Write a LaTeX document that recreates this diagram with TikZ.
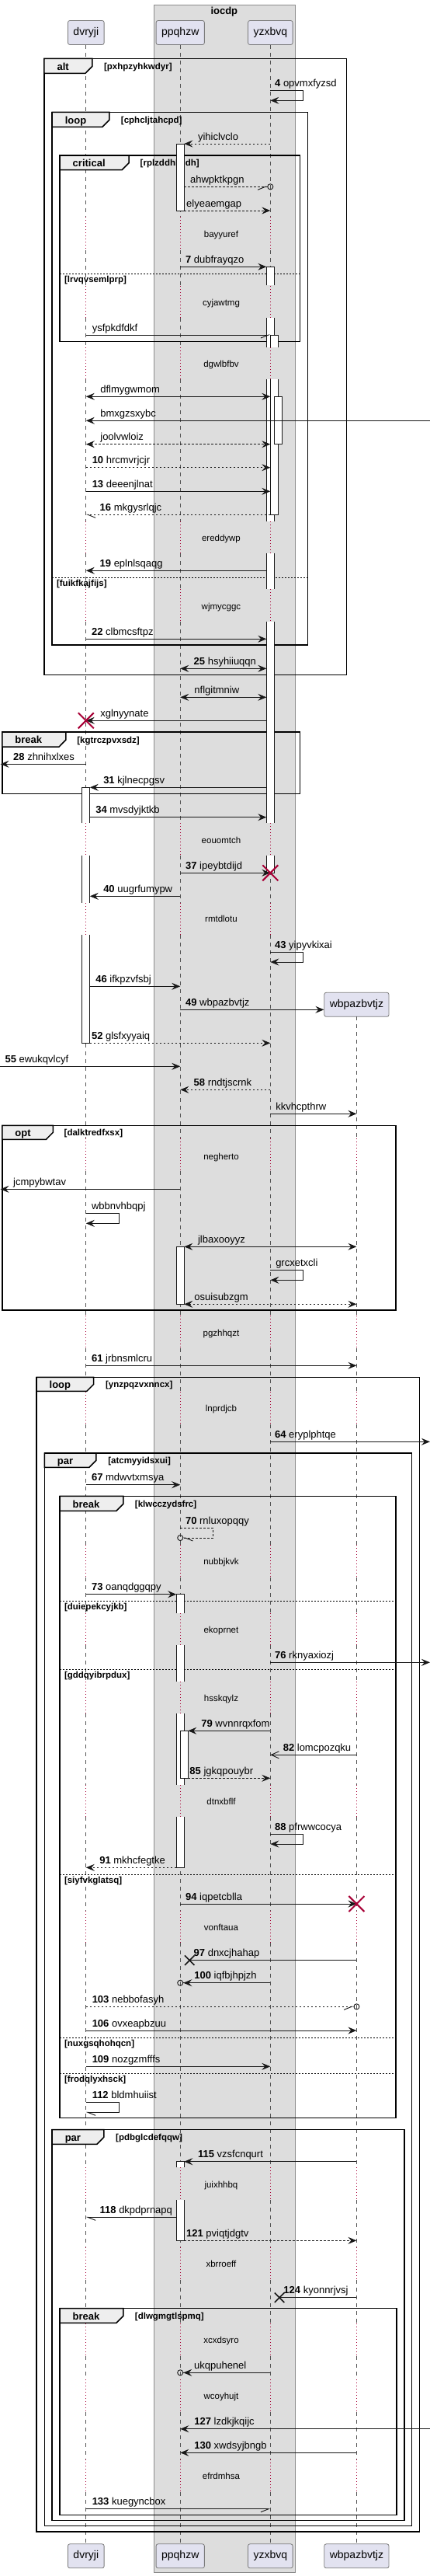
\documentclass[tikz,border=0pt]{standalone}
\usepackage{fontspec}
\setmainfont{Liberation Sans}
\usetikzlibrary{positioning, arrows.meta, shapes.misc}

\definecolor{partfill}{HTML}{E2E2F0}
\definecolor{partline}{HTML}{7A7A7A}
\definecolor{boxfill}{HTML}{DDDDDD}
\definecolor{boxline}{HTML}{8C8C8C}
\definecolor{lifegray}{HTML}{555555}
\definecolor{delayred}{HTML}{A80036}
\definecolor{tabfill}{HTML}{EEEEEE}
\definecolor{msgblack}{HTML}{181818}

\tikzset{
  seqF/.tip={Stealth[length=11pt,width=9pt,inset=4pt]},
  seqHr/.tip={Straight Barb[harpoon,swap,length=10pt,width=8pt]},
  seqHl/.tip={Straight Barb[harpoon,length=10pt,width=8pt]},
  seqO/.tip={Straight Barb[length=10pt,width=9pt]},
  part/.style={draw=partline, fill=partfill, rounded corners=2.5pt, line width=0.8pt,
    minimum height=31pt, inner xsep=7pt, font=\fontsize{14}{16}\selectfont},
  grpbox/.style={draw=boxline, fill=boxfill, line width=0.8pt, inner sep=0pt},
  grptitle/.style={inner sep=0pt, font=\bfseries\fontsize{13}{15}\selectfont},
  lifeline/.style={draw=lifegray, line width=0.7pt, dash pattern=on 5pt off 5pt},
  delayline/.style={draw=delayred, line width=0.8pt, dash pattern=on 1pt off 3pt},
  delaytxt/.style={anchor=base, inner sep=0pt, font=\fontsize{11.5}{13}\selectfont},
  msgline/.style={draw=msgblack, line width=0.9pt},
  reply/.style={dash pattern=on 2.5pt off 2.5pt},
  msglbl/.style={anchor=base west, inner sep=0pt, font=\fontsize{13}{15}\selectfont},
  actbox/.style={draw=msgblack, fill=white, line width=0.9pt},
  frameline/.style={draw=black, line width=1.5pt},
  frametab/.style={draw=black, fill=tabfill, line width=1.5pt},
  elseline/.style={draw=black, line width=0.8pt, dash pattern=on 2pt off 2pt},
  fname/.style={anchor=base west, inner sep=0pt, font=\bfseries\fontsize{13}{15}\selectfont},
  fguard/.style={anchor=base west, inner sep=0pt, font=\bfseries\fontsize{11.5}{13}\selectfont},
  destroy/.style={cross out, draw=delayred, line width=2pt, minimum size=18pt, inner sep=0pt},
  lostx/.style={cross out, draw=msgblack, line width=1.5pt, minimum size=11pt, inner sep=0pt}
}

\begin{document}
\begin{tikzpicture}[x=0.9929pt, y=-1pt]
\useasboundingbox (0,0) rectangle (557.96,3315);

        %-----Box-----
        \node[grpbox, minimum width=182.3pt, minimum height=3304pt, anchor=north west] (iocdp) at (199.3,6) {};
        \node[grptitle, anchor=base] (iocdpT) at (290.9,18.7) {iocdp};

        %-----Participants-----
        \node[part] (dvryji) at (111.6,42) {dvryji};
        \node[part] (ppqhzw) at (233.9,42) {ppqhzw};
        \node[part] (yzxbvq) at (350.8,42) {yzxbvq};
        \node[part] (wbpazbvtjz) at (462.7,1292.8) {wbpazbvtjz};

        \node[part] (dvryjiF) at (111.6,3289.3) {dvryji};
        \node[part] (ppqhzwF) at (233.9,3289.3) {ppqhzw};
        \node[part] (yzxbvqF) at (350.8,3289.3) {yzxbvq};
        \node[part] (wbpazbvtjzF) at (462.7,3289.3) {wbpazbvtjz};

        % activation edges and free ends
        \coordinate (dvrR) at ([xshift=5pt]dvryji.center);
        \coordinate (ppqL) at ([xshift=-5pt]ppqhzw.center);
        \coordinate (ppqR) at ([xshift=5pt]ppqhzw.center);
        \coordinate (ppqR2) at ([xshift=10pt]ppqhzw.center);
        \coordinate (ppqO) at ([xshift=-4pt]ppqhzw.center);
        \coordinate (yzxL) at ([xshift=-5pt]yzxbvq.center);
        \coordinate (yzxO) at ([xshift=4pt]yzxbvq.center);
        \coordinate (wbpO) at ([xshift=4pt]wbpazbvtjz.center);
        \coordinate (leftend) at (0.5,0);
        \coordinate (rightend) at (557.9,0);

        %-----Lifelines and delays-----
        \def\delaylist{279/322, 368/409, 447/488, 671/712, 758/800, 1059/1101, 1162/1203, 1465/1507, 1693/1735, 1791/1833, 1988/2030, 2076/2117, 2164/2205, 2297/2338, 2459/2500, 2789/2831, 2892/2934, 2990/3032, 3062/3104, 3165/3207}
        \foreach \p in {dvryji, ppqhzw, yzxbvq} {
          \foreach \a/\b [remember=\b as \prev (initially 57.5)] in \delaylist {
            \draw[lifeline] (\p |- 0,\prev) -- (\p |- 0,\a);
            \draw[delayline] (\p |- 0,\a) -- (\p |- 0,\b);
          }
          \draw[lifeline] (\p |- 0,3207) -- (\p |- 0,3273.8);
        }
        \foreach \a/\b [remember=\b as \prev (initially 1308.3)] in {1465/1507, 1693/1735, 1791/1833, 1988/2030, 2076/2117, 2164/2205, 2297/2338, 2459/2500, 2789/2831, 2892/2934, 2990/3032, 3062/3104, 3165/3207} {
          \draw[lifeline] (wbpazbvtjz |- 0,\prev) -- (wbpazbvtjz |- 0,\a);
          \draw[delayline] (wbpazbvtjz |- 0,\a) -- (wbpazbvtjz |- 0,\b);
        }
        \draw[lifeline] (wbpazbvtjz |- 0,3207) -- (wbpazbvtjzF);

        % delay texts
        \node[delaytxt] (dl1) at (287,305) {bayyuref};
        \node[delaytxt] (dl2) at (287,393.3) {cyjawtmg};
        \node[delaytxt] (dl3) at (287,472.3) {dgwlbfbv};
        \node[delaytxt] (dl4) at (287,696.3) {ereddywp};
        \node[delaytxt] (dl5) at (287,784) {wjmycggc};
        \node[delaytxt] (dl6) at (287,1085) {eouomtch};
        \node[delaytxt] (dl7) at (287,1186.7) {rmtdlotu};
        \node[delaytxt] (dl8) at (287,1492.3) {negherto};
        \node[delaytxt] (dl9) at (287,1719) {pgzhhqzt};
        \node[delaytxt] (dl10) at (287,1816.3) {lnprdjcb};
        \node[delaytxt] (dl11) at (287,2013) {nubbjkvk};
        \node[delaytxt] (dl12) at (287,2101.3) {ekoprnet};
        \node[delaytxt] (dl13) at (287,2189) {hsskqylz};
        \node[delaytxt] (dl14) at (287,2322.3) {dtnxbflf};
        \node[delaytxt] (dl15) at (287,2484) {vonftaua};
        \node[delaytxt] (dl16) at (287,2815) {juixhhbq};
        \node[delaytxt] (dl17) at (287,2917.3) {xbrroeff};
        \node[delaytxt] (dl18) at (287,3015) {xcxdsyro};
        \node[delaytxt] (dl19) at (287,3087.3) {wcoyhujt};
        \node[delaytxt] (dl20) at (287,3190) {efrdmhsa};

        %-----Frames-----

        % alt frame
        \draw[frameline] (57.4,75.3) rectangle (449.6,868.3);
        \draw[frametab] (57.4,75.3) -- (119.8,75.3) -- (119.8,85.3) -- (110.8,94.3) -- (57.4,94.3) -- cycle;
        \node[fname] (altN) at (73.9,90) {alt};
        \node[fguard] (altG) at (134.8,89.3) {[pxhpzyhkwdyr]};

        % loop frame
        \draw[frameline] (67.7,144.3) rectangle (399.3,830);
        \draw[frametab] (67.7,144.3) -- (141.9,144.3) -- (141.9,154.3) -- (132.9,163.3) -- (67.7,163.3) -- cycle;
        \node[fname] (loopN) at (84.2,159) {loop};
        \node[fguard] (loopG) at (156.9,158.3) {[cphcljtahcpd]};
        \draw[elseline] (67.7,743) -- (399.3,743);
        \node[fguard] (loopE) at (73.4,754.4) {[fuikfkajfijs]};

        % critical frame
        \draw[frameline] (77.7,200) rectangle (389.3,439.3);
        \draw[frametab] (77.7,200) -- (167.2,200) -- (167.2,209.7) -- (158.2,218.7) -- (77.7,218.7) -- cycle;
        \node[fname] (critN) at (94.2,214.3) {critical};
        \node[fguard] (critG) at (181.8,213.7) {[rplzddhlcldh]};
        \draw[elseline] (77.7,352.3) -- (389.3,352.3);
        \node[fguard] (critE) at (83.4,363.7) {[lrvqvsemlprp]};

        % break frame
        \draw[frameline] (2.9,942) rectangle (389.3,1021.7);
        \draw[frametab] (2.9,942) -- (85.6,942) -- (85.6,952) -- (76.6,961) -- (2.9,961) -- cycle;
        \node[fname] (brkN) at (19.4,956.7) {break};
        \node[fguard] (brkG) at (99.8,956) {[kgtrczpvxsdz]};

        % opt frame
        \draw[frameline] (2.9,1448.3) rectangle (513.7,1686);
        \draw[frametab] (2.9,1448.3) -- (68.8,1448.3) -- (68.8,1457.3) -- (59.8,1466.3) -- (2.9,1466.3) -- cycle;
        \node[fname] (optN) at (19.4,1462) {opt};
        \node[fguard] (optG) at (83.1,1461.3) {[dalktredfxsx]};

        % outer loop frame
        \draw[frameline] (47.4,1772.3) rectangle (544.4,3258);
        \draw[frametab] (47.4,1772.3) -- (121.6,1772.3) -- (121.6,1781.3) -- (112.6,1790.3) -- (47.4,1790.3) -- cycle;
        \node[fname] (loop2N) at (63.9,1786) {loop};
        \node[fguard] (loop2G) at (136.9,1785.3) {[ynzpqzvxnncx]};

        % par frame
        \draw[frameline] (57.8,1870) rectangle (534.4,3250.7);
        \draw[frametab] (57.8,1870) -- (124.8,1870) -- (124.8,1879.3) -- (115.8,1888.3) -- (57.8,1888.3) -- cycle;
        \node[fname] (parN) at (74.3,1884) {par};
        \node[fguard] (parG) at (140.1,1883.3) {[atcmyyidsxui]};

        % break frame with else parts
        \draw[frameline] (77.7,1925.3) rectangle (513.7,2725.7);
        \draw[frametab] (77.7,1925.3) -- (160,1925.3) -- (160,1935.3) -- (151,1944.3) -- (77.7,1944.3) -- cycle;
        \node[fname] (brk2N) at (94.2,1940) {break};
        \node[fguard] (brk2G) at (175,1939.3) {[klwcczydsfrc]};
        \draw[elseline] (77.7,2060.3) -- (513.7,2060.3);
        \node[fguard] (brk2E1) at (83.4,2071.7) {[duiepekcyjkb]};
        \draw[elseline] (77.7,2148.3) -- (513.7,2148.3);
        \node[fguard] (brk2E2) at (83.4,2159.7) {[gddqyibrpdux]};
        \draw[elseline] (77.7,2412) -- (513.7,2412);
        \node[fguard] (brk2E3) at (83.4,2423.4) {[siyfvkglatsq]};
        \draw[elseline] (77.7,2622) -- (513.7,2622);
        \node[fguard] (brk2E4) at (83.4,2633.4) {[nuxgsqhohqcn]};
        \draw[elseline] (77.7,2668.3) -- (513.7,2668.3);
        \node[fguard] (brk2E5) at (83.4,2679.7) {[frodqlyxhsck]};

        % inner par frame
        \draw[frameline] (67.7,2740.7) rectangle (524.8,3243.7);
        \draw[frametab] (67.7,2740.7) -- (134.8,2740.7) -- (134.8,2750.3) -- (125.8,2759.3) -- (67.7,2759.3) -- cycle;
        \node[fname] (par2N) at (84.2,2755) {par};
        \node[fguard] (par2G) at (150.1,2754.3) {[pdbglcdefqqw]};

        % inner break frame
        \draw[frameline] (77.7,2970.7) rectangle (514.4,3236.7);
        \draw[frametab] (77.7,2970.7) -- (160,2970.7) -- (160,2980.3) -- (151,2989.3) -- (77.7,2989.3) -- cycle;
        \node[fname] (brk3N) at (94.2,2985) {break};
        \node[fguard] (brk3G) at (175,2984.3) {[dlwgmgtlspmq]};

        %-----Activations-----

        % ppqhzw
        \draw[actbox] (228.9,185) rectangle (238.9,271);
        \draw[actbox] (228.9,1604.3) rectangle (238.9,1678.3);
        \filldraw[actbox] (228.9,2075.7) -- (228.9,2051.7) -- (238.9,2051.7) -- (238.9,2075.7);
        \fill[white] (228.9,2117.3) rectangle (238.9,2163.7);
        \draw[actbox] (228.9,2117.3) -- (228.9,2163.7) (238.9,2117.3) -- (238.9,2163.7);
        \fill[white] (228.9,2205) rectangle (238.9,2296.7);
        \draw[actbox] (228.9,2205) -- (228.9,2296.7) (238.9,2205) -- (238.9,2296.7);
        \filldraw[actbox] (228.9,2338.3) -- (228.9,2403.3) -- (238.9,2403.3) -- (238.9,2338.3);
        \draw[actbox] (233.9,2227.3) rectangle (243.9,2288.3);
        \filldraw[actbox] (228.9,2789.3) -- (228.9,2781.7) -- (238.9,2781.7) -- (238.9,2789.3);
        \filldraw[actbox] (228.9,2831) -- (228.9,2883.3) -- (238.9,2883.3) -- (238.9,2831);

        % yzxbvq
        \filldraw[actbox] (345.8,367.3) -- (345.8,343.3) -- (355.8,343.3) -- (355.8,367.3);
        \foreach \a/\b in {409/446.7, 488.3/670.7, 711.7/758.3, 800/1059.3} {
          \fill[white] (345.8,\a) rectangle (355.8,\b);
          \draw[actbox] (345.8,\a) -- (345.8,\b) (355.8,\a) -- (355.8,\b);
        }
        \filldraw[actbox] (345.8,1101) -- (345.8,1123.3) -- (355.8,1123.3) -- (355.8,1101);
        \filldraw[actbox] (350.8,446.7) -- (350.8,431) -- (360.8,431) -- (360.8,446.7);
        \filldraw[actbox] (350.8,488.3) -- (350.8,662.3) -- (360.8,662.3) -- (360.8,488.3);
        \draw[actbox] (355.8,510.3) rectangle (365.8,571.7);

        % dvryji
        \filldraw[actbox] (106.6,1059.3) -- (106.6,1013.3) -- (116.6,1013.3) -- (116.6,1059.3);
        \fill[white] (106.6,1101) rectangle (116.6,1161.7);
        \draw[actbox] (106.6,1101) -- (106.6,1161.7) (116.6,1101) -- (116.6,1161.7);
        \filldraw[actbox] (106.6,1203.3) -- (106.6,1342.3) -- (116.6,1342.3) -- (116.6,1203.3);

        %-----Messages-----

        % yzxbvq to itself
        \draw[msgline, -seqF] (yzxbvq |- 0,116.7) -- ++(42.4,0) -- ++(0,12.6) -- (yzxbvq |- 0,129.3);
        \node[msglbl] (m4) at (356.5,111.7) {\textbf{4} opvmxfyzsd};

        % Connect yzxbvq to ppqhzw
        \draw[msgline, reply, -seqF] (yzxbvq |- 0,185) -- (ppqR |- 0,185);
        \node[msglbl] (mA) at (256.7,180) {yihiclvclo};

        % Connect ppqhzw to yzxbvq
        \draw[msgline, reply, -{seqHr[]Circle[open,length=8pt,width=8pt]}] (ppqR |- 0,240.3) -- (yzxO |- 0,240.3);
        \node[msglbl] (mB) at (246.7,235.3) {ahwpktkpgn};
        \draw[msgline, reply, -seqF] (ppqR |- 0,271) -- (yzxbvq |- 0,271);
        \node[msglbl] (mC) at (241.7,266) {elyeaemgap};
        \draw[msgline, -seqF] (ppqhzw |- 0,343.3) -- (yzxL |- 0,343.3);
        \node[msglbl] (m7) at (240.6,338.3) {\textbf{7} dubfrayqzo};

        % Connect dvryji to yzxbvq
        \draw[msgline, -seqHr] (dvryji |- 0,431) -- (yzxbvq |- 0,431);
        \node[msglbl] (mD) at (119.4,426) {ysfpkdfdkf};
        \draw[msgline, seqF-seqF] (dvryji |- 0,510.3) -- (yzxbvq |- 0,510.3);
        \node[msglbl] (mE) at (130.1,505.3) {dflmygwmom};

        % Connect right end to dvryji
        \draw[msgline, -seqF] (rightend |- 0,541.3) -- (dvryji |- 0,541.3);
        \node[msglbl] (mF) at (130.1,536.3) {bmxgzsxybc};

        \draw[msgline, reply, seqF-seqF] (dvryji |- 0,571.7) -- (yzxbvq |- 0,571.7);
        \node[msglbl] (mG) at (130.1,566.7) {joolvwloiz};
        \draw[msgline, reply, -seqF] (dvryji |- 0,601.7) -- (yzxbvq |- 0,601.7);
        \node[msglbl] (m10) at (119.4,596.7) {\textbf{10} hrcmvrjcjr};
        \draw[msgline, -seqF] (dvryji |- 0,632.3) -- (yzxbvq |- 0,632.3);
        \node[msglbl] (m13) at (119.4,627.3) {\textbf{13} deeenjlnat};

        % Connect yzxbvq to dvryji
        \draw[msgline, reply, -seqHl] (yzxbvq |- 0,662.3) -- (dvryji |- 0,662.3);
        \node[msglbl] (m16) at (129.4,657.3) {\textbf{16} mkgysrlqjc};
        \draw[msgline, -seqF] (yzxL |- 0,734.3) -- (dvryji |- 0,734.3);
        \node[msglbl] (m19) at (129.4,729.3) {\textbf{19} eplnlsqaqg};
        \draw[msgline, -seqF] (dvryji |- 0,822.3) -- (yzxL |- 0,822.3);
        \node[msglbl] (m22) at (118.7,817.3) {\textbf{22} clbmcsftpz};

        % Connect ppqhzw and yzxbvq both ways
        \draw[msgline, seqF-seqF] (ppqhzw |- 0,860.3) -- (yzxL |- 0,860.3);
        \node[msglbl] (m25) at (251.3,855.3) {\textbf{25} hsyhiiuqqn};
        \draw[msgline, seqF-seqF] (ppqhzw |- 0,897.3) -- (yzxL |- 0,897.3);
        \node[msglbl] (mH) at (252,892.3) {nflgitmniw};

        % Connect yzxbvq to dvryji, dvryji destroyed
        \draw[msgline, -seqF] (yzxL |- 0,927.3) -- (dvryji |- 0,927.3);
        \node[msglbl] (mI) at (130.1,922.3) {xglnyynate};
        \node[destroy] (killD) at (dvryji |- 0,927.3) {};

        % break part
        \draw[msgline, -seqF] (dvryji |- 0,983.3) -- (leftend |- 0,983.3);
        \node[msglbl] (m28) at (17.1,978.3) {\textbf{28} zhnihxlxes};
        \draw[msgline, -seqF] (yzxL |- 0,1013.3) -- (dvrR |- 0,1013.3);
        \node[msglbl] (m31) at (134,1008.3) {\textbf{31} kjlnecpgsv};

        \draw[msgline, -seqF] (dvrR |- 0,1051.7) -- (yzxL |- 0,1051.7);
        \node[msglbl] (m34) at (124,1046.7) {\textbf{34} mvsdyjktkb};

        % Connect ppqhzw to yzxbvq, yzxbvq destroyed
        \draw[msgline, -seqF] (ppqhzw |- 0,1123.3) -- (yzxbvq |- 0,1123.3);
        \node[msglbl] (m37) at (240.6,1118.3) {\textbf{37} ipeybtdijd};
        \node[destroy] (killY) at (yzxbvq |- 0,1123.3) {};

        \draw[msgline, -seqF] (ppqhzw |- 0,1153.3) -- (dvrR |- 0,1153.3);
        \node[msglbl] (m40) at (134,1148.3) {\textbf{40} uugrfumypw};

        \draw[msgline, -seqF] (yzxbvq |- 0,1225.7) -- ++(42.4,0) -- ++(0,12.3) -- (yzxbvq |- 0,1238);
        \node[msglbl] (m43) at (356.5,1220.7) {\textbf{43} yipyvkixai};

        \draw[msgline, -seqF] (dvrR |- 0,1269.3) -- (ppqhzw |- 0,1269.3);
        \node[msglbl] (m46) at (124,1264.3) {\textbf{46} ifkpzvfsbj};

        % Create wbpazbvtjz
        \draw[msgline, -seqF] (ppqhzw |- 0,1299.3) -- (wbpazbvtjz.west |- 0,1299.3);
        \node[msglbl] (m49) at (240.6,1294.3) {\textbf{49} wbpazbvtjz};

        \draw[msgline, reply, -seqF] (dvrR |- 0,1342.3) -- (yzxbvq |- 0,1342.3);
        \node[msglbl] (m52) at (118.7,1337.3) {\textbf{52} glsfxyyaiq};
        \draw[msgline, -seqF] (leftend |- 0,1372.3) -- (ppqhzw |- 0,1372.3);
        \node[msglbl] (m55) at (6.4,1367.3) {\textbf{55} ewukqvlcyf};
        \draw[msgline, reply, -seqF] (yzxbvq |- 0,1402.3) -- (ppqhzw |- 0,1402.3);
        \node[msglbl] (m58) at (251.3,1397.3) {\textbf{58} rndtjscrnk};
        \draw[msgline, -seqF] (yzxbvq |- 0,1433.3) -- (wbpazbvtjz |- 0,1433.3);
        \node[msglbl] (mJ) at (357.6,1428.3) {kkvhcpthrw};

        % opt part
        \draw[msgline, -seqF] (ppqhzw |- 0,1530.3) -- (leftend |- 0,1530.3);
        \node[msglbl] (mK) at (17.1,1525.3) {jcmpybwtav};
        \draw[msgline, -seqF] (dvryji |- 0,1561.3) -- ++(43,0) -- ++(0,13) -- (dvryji |- 0,1574.3);
        \node[msglbl] (mL) at (118.7,1556.3) {wbbnvhbqpj};
        \draw[msgline, seqF-seqF] (ppqR |- 0,1604.3) -- (wbpazbvtjz |- 0,1604.3);
        \node[msglbl] (mM) at (256.7,1599.3) {jlbaxooyyz};
        \draw[msgline, -seqF] (yzxbvq |- 0,1634.3) -- ++(42.4,0) -- ++(0,13) -- (yzxbvq |- 0,1647.3);
        \node[msglbl] (mN) at (357.6,1629.3) {grcxetxcli};
        \draw[msgline, reply, seqF-seqF] (ppqR |- 0,1678.3) -- (wbpazbvtjz |- 0,1678.3);
        \node[msglbl] (mO) at (252,1673.3) {osuisubzgm};

        \draw[msgline, -seqF] (dvryji |- 0,1757.3) -- (wbpazbvtjz |- 0,1757.3);
        \node[msglbl] (m61) at (118.7,1752.3) {\textbf{61} jrbnsmlcru};

        % loop part
        \draw[msgline, -seqF] (yzxbvq |- 0,1855.3) -- (rightend |- 0,1855.3);
        \node[msglbl] (m64) at (356.5,1850.3) {\textbf{64} eryplphtqe};
        \draw[msgline, -seqF] (dvryji |- 0,1910.7) -- (ppqhzw |- 0,1910.7);
        \node[msglbl] (m67) at (118.7,1905.7) {\textbf{67} mdwvtxmsya};

        \draw[msgline, reply, -{seqHl[]Circle[open,length=8pt,width=8pt]}] (ppqhzw |- 0,1966.7) -- ++(43,0) -- ++(0,12.3) -- (ppqO |- 0,1979);
        \node[msglbl] (m70) at (240.6,1961.7) {\textbf{70} rnluxopqqy};
        \draw[msgline, -seqF] (dvryji |- 0,2051.7) -- (ppqL |- 0,2051.7);
        \node[msglbl] (m73) at (118.7,2046.7) {\textbf{73} oanqdggqpy};
        \draw[msgline, -seqF] (yzxbvq |- 0,2139.3) -- (rightend |- 0,2139.3);
        \node[msglbl] (m76) at (356.5,2134.3) {\textbf{76} rknyaxiozj};
        \draw[msgline, -seqF] (yzxbvq |- 0,2227.3) -- (ppqR2 |- 0,2227.3);
        \node[msglbl] (m79) at (261,2222.3) {\textbf{79} wvnnrqxfom};
        \draw[msgline, -seqO] (wbpazbvtjz |- 0,2258.3) -- (yzxbvq |- 0,2258.3);
        \node[msglbl] (m82) at (367.2,2253.3) {\textbf{82} lomcpozqku};
        \draw[msgline, reply, -seqF] (ppqR2 |- 0,2288.3) -- (yzxbvq |- 0,2288.3);
        \node[msglbl] (m85) at (246,2283.3) {\textbf{85} jgkqpouybr};
        \draw[msgline, -seqF] (yzxbvq |- 0,2360.7) -- ++(42.4,0) -- ++(0,12.3) -- (yzxbvq |- 0,2373);
        \node[msglbl] (m88) at (356.5,2355.7) {\textbf{88} pfrwwcocya};
        \draw[msgline, reply, -seqF] (ppqL |- 0,2403.3) -- (dvryji |- 0,2403.3);
        \node[msglbl] (m91) at (129,2398.3) {\textbf{91} mkhcfegtke};

        % Connect ppqhzw to wbpazbvtjz, wbpazbvtjz destroyed
        \draw[msgline, -seqF] (ppqhzw |- 0,2450) -- (wbpazbvtjz |- 0,2450);
        \node[msglbl] (m94) at (240.6,2445) {\textbf{94} iqpetcblla};
        \node[destroy] (killW) at (wbpazbvtjz |- 0,2450) {};

        % lost message
        \node[lostx] (lostA) at (246,2522.7) {};
        \draw[msgline] (wbpazbvtjz |- 0,2522.7) -- (lostA.center);
        \node[msglbl] (m97) at (251.3,2517.7) {\textbf{97} dnxcjhahap};

        \draw[msgline, -{seqF[]Circle[open,length=8pt,width=8pt]}] (yzxbvq |- 0,2551.7) -- (ppqO |- 0,2551.7);
        \node[msglbl] (m100) at (252,2546.7) {\textbf{100} iqfbjhpjzh};
        \draw[msgline, reply, -{seqHr[]Circle[open,length=8pt,width=8pt]}] (dvryji |- 0,2582.3) -- (wbpO |- 0,2582.3);
        \node[msglbl] (m103) at (119.4,2577.3) {\textbf{103} nebbofasyh};
        \draw[msgline, -seqF] (dvryji |- 0,2613) -- (wbpazbvtjz |- 0,2613);
        \node[msglbl] (m106) at (119.4,2608) {\textbf{106} ovxeapbzuu};
        \draw[msgline, -seqF] (dvryji |- 0,2659.3) -- (yzxbvq |- 0,2659.3);
        \node[msglbl] (m109) at (119.4,2654.3) {\textbf{109} nozgzmfffs};
        \draw[msgline, -seqHl] (dvryji |- 0,2705.3) -- ++(43,0) -- ++(0,13) -- (dvryji |- 0,2718.3);
        \node[msglbl] (m112) at (119.4,2700.3) {\textbf{112} bldmhuiist};

        % inner par part
        \draw[msgline, -seqF] (wbpazbvtjz |- 0,2781.7) -- (ppqR |- 0,2781.7);
        \node[msglbl] (m115) at (256.7,2776.7) {\textbf{115} vzsfcnqurt};
        \draw[msgline, -seqHl] (ppqL |- 0,2853.3) -- (dvryji |- 0,2853.3);
        \node[msglbl] (m118) at (129.4,2848.3) {\textbf{118} dkpdprnapq};
        \draw[msgline, reply, -seqF] (ppqR |- 0,2883.3) -- (wbpazbvtjz |- 0,2883.3);
        \node[msglbl] (m121) at (241.7,2878.3) {\textbf{121} pviqtjdgtv};

        \node[lostx] (lostB) at (362.6,2956.7) {};
        \draw[msgline] (wbpazbvtjz |- 0,2956.7) -- (lostB.center);
        \node[msglbl] (m124) at (367.9,2951.7) {\textbf{124} kyonnrjvsj};

        % inner break part
        \draw[msgline, -{seqF[]Circle[open,length=8pt,width=8pt]}] (yzxbvq |- 0,3053.3) -- (ppqO |- 0,3053.3);
        \node[msglbl] (mP) at (251.7,3048.3) {ukqpuhenel};
        \draw[msgline, -seqF] (rightend |- 0,3125.7) -- (ppqhzw |- 0,3125.7);
        \node[msglbl] (m127) at (252,3120.7) {\textbf{127} lzdkjkqijc};
        \draw[msgline, -seqF] (wbpazbvtjz |- 0,3156.3) -- (ppqhzw |- 0,3156.3);
        \node[msglbl] (m130) at (252,3151.3) {\textbf{130} xwdsyjbngb};
        \draw[msgline, -seqHr] (dvryji |- 0,3228.7) -- (yzxbvq |- 0,3228.7);
        \node[msglbl] (m133) at (119.4,3223.7) {\textbf{133} kuegyncbox};

\end{tikzpicture}
\end{document}
